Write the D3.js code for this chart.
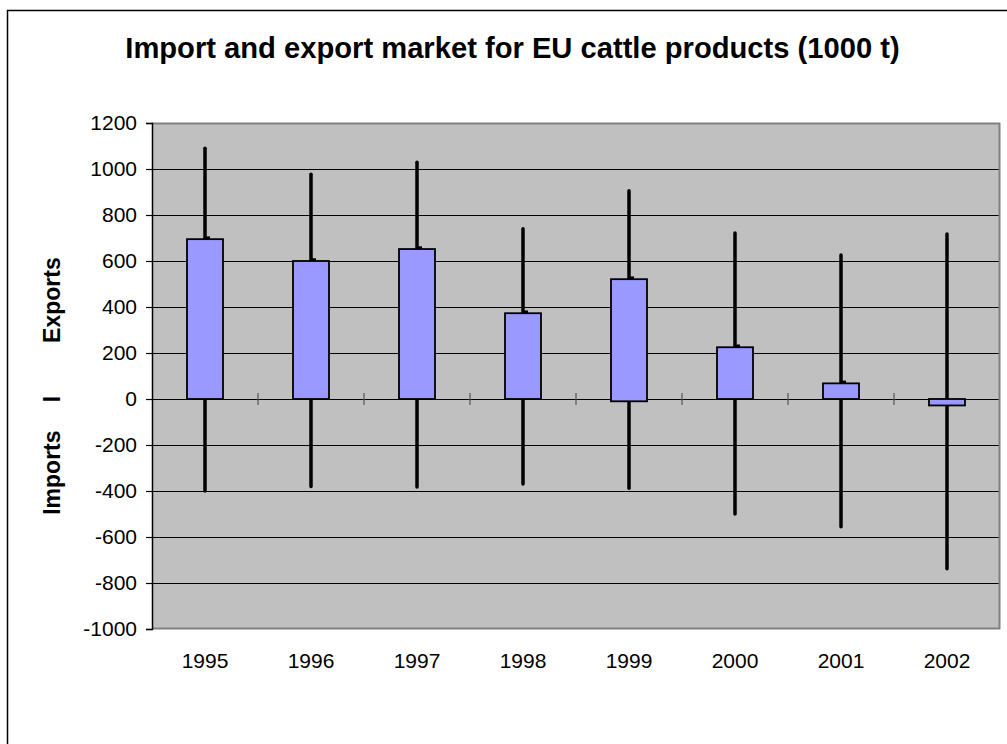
<!DOCTYPE html>
<html>
<head>
<meta charset="utf-8">
<script src="https://cdn.jsdelivr.net/npm/d3@7"></script>
<style>
  body { margin: 0; background: #fff; }
  text { font-family: "Liberation Sans", Arial, sans-serif; }
</style>
</head>
<body>
<script>
// Chart data (1000 t)
const years = ["1995", "1996", "1997", "1998", "1999", "2000", "2001", "2002"];
const exportsHigh = [1090, 977, 1029, 740, 905, 722, 626, 717];
const importsLow = [-400, -380, -383, -370, -388, -500, -555, -738];
const barOpen = [0, 0, 0, 0, -10, 0, 0, 0];
const barClose = [695, 600, 652, 373, 521, 225, 68, -28];
const yTicks = [-1000, -800, -600, -400, -200, 0, 200, 400, 600, 800, 1000, 1200];

const W = 1007, H = 744;
const margin = { top: 123, left: 152 };
const width = 848, height = 506;

const svg = d3.select("body").append("svg")
  .attr("width", W)
  .attr("height", H);

// outer chart border (right/bottom run off the page like the original)
svg.append("rect")
  .attr("x", 7.5).attr("y", 10.5)
  .attr("width", 1010).attr("height", 750)
  .attr("fill", "none")
  .attr("stroke", "#000")
  .attr("stroke-width", 1.5);

// title
const title = svg.append("text")
  .attr("x", 512.5).attr("y", 58)
  .attr("text-anchor", "middle")
  .attr("font-weight", "bold")
  .attr("font-size", 24)
  .text("Import and export market for EU cattle products (1000 t)");
const tl = title.node().getComputedTextLength();
title.attr("font-size", 24 * 775 / tl);

const g = svg.append("g").attr("transform", `translate(${margin.left},${margin.top})`);

const x = d3.scaleBand().domain(years).range([0, width]);
const y = d3.scaleLinear().domain([-1000, 1200]).range([height, 0]);

// plot background
g.append("rect")
  .attr("width", width).attr("height", height)
  .attr("fill", "#c0c0c0");

// gridlines
g.selectAll(".grid")
  .data(yTicks.filter(d => d > -1000 && d < 1200))
  .enter().append("line")
  .attr("x1", 0).attr("x2", width)
  .attr("y1", d => Math.round(y(d)) + 0.5)
  .attr("y2", d => Math.round(y(d)) + 0.5)
  .attr("stroke", "#000")
  .attr("stroke-width", 1.2);

// plot border (gray)
g.append("path")
  .attr("d", `M0,0.5H${width - 0.5}V${height - 0.5}H0`)
  .attr("fill", "none")
  .attr("stroke", "#808080")
  .attr("stroke-width", 2);

// category ticks on the zero line
g.selectAll(".xtick")
  .data(years.slice(1))
  .enter().append("line")
  .attr("x1", d => x(d)).attr("x2", d => x(d))
  .attr("y1", y(0) - 6).attr("y2", y(0) + 6)
  .attr("stroke", "#555")
  .attr("stroke-width", 1.2);

// y axis
const yAxis = d3.axisLeft(y).tickValues(yTicks).tickFormat(d => String(d)).tickSize(6).tickPadding(9);
const ya = g.append("g").call(yAxis);
ya.attr("font-size", 21).attr("font-family", "'Liberation Sans', Arial, sans-serif");
ya.select(".domain").attr("stroke", "#000").attr("stroke-width", 1.5);
ya.selectAll(".tick line").attr("stroke", "#000").attr("stroke-width", 1.2);
ya.selectAll(".tick text").attr("fill", "#000");

// x labels
g.selectAll(".xlab")
  .data(years)
  .enter().append("text")
  .attr("x", d => x(d) + x.bandwidth() / 2)
  .attr("y", 668 - margin.top)
  .attr("text-anchor", "middle")
  .attr("font-size", 21)
  .text(d => d);

// high-low lines
const cx = i => x(years[i]) + x.bandwidth() / 2;
g.selectAll(".hl")
  .data(years)
  .enter().append("line")
  .attr("x1", (d, i) => cx(i)).attr("x2", (d, i) => cx(i))
  .attr("y1", (d, i) => y(exportsHigh[i]))
  .attr("y2", (d, i) => y(importsLow[i]))
  .attr("stroke", "#000")
  .attr("stroke-width", 3.5)
  .attr("stroke-linecap", "round");

// close tick
g.selectAll(".close")
  .data(years)
  .enter().append("line")
  .attr("x1", (d, i) => cx(i)).attr("x2", (d, i) => cx(i) + 5)
  .attr("y1", (d, i) => y(barClose[i]) - 1.5)
  .attr("y2", (d, i) => y(barClose[i]) - 1.5)
  .attr("stroke", "#000")
  .attr("stroke-width", 2.5);

// up/down bars
const barW = 36;
g.selectAll(".bar")
  .data(years)
  .enter().append("rect")
  .attr("x", (d, i) => cx(i) - barW / 2)
  .attr("y", (d, i) => y(Math.max(barOpen[i], barClose[i])))
  .attr("width", barW)
  .attr("height", (d, i) => Math.abs(y(barOpen[i]) - y(barClose[i])))
  .attr("fill", "#9999ff")
  .attr("stroke", "#000")
  .attr("stroke-width", 1.8);

// y axis title pieces
const yLabels = [
  { t: "Exports", v: 430 },
  { t: "I", v: 0 },
  { t: "Imports", v: -320 }
];
svg.selectAll(".ylab")
  .data(yLabels)
  .enter().append("text")
  .attr("transform", d => `translate(60,${margin.top + y(d.v)}) rotate(-90)`)
  .attr("text-anchor", "middle")
  .attr("font-weight", "bold")
  .attr("font-size", 23)
  .text(d => d.t);
</script>
</body>
</html>
